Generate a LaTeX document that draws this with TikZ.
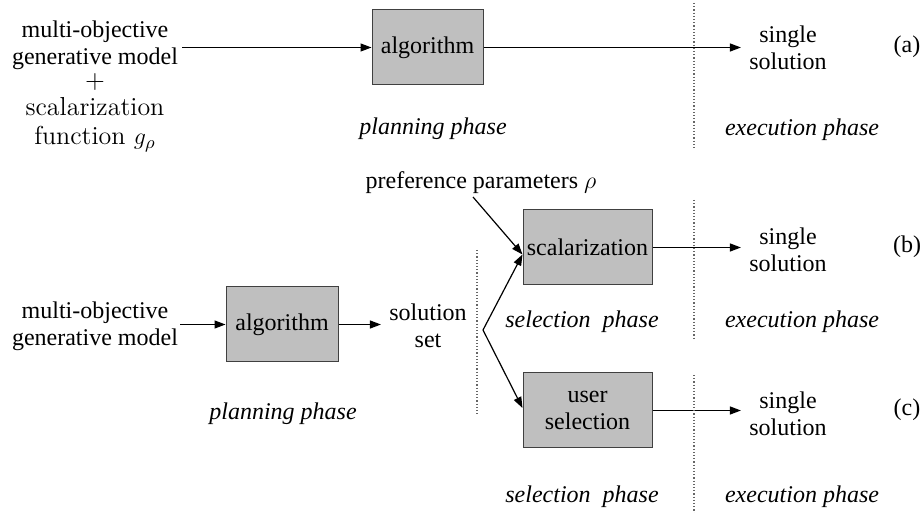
\documentclass[tikz,border=0pt]{standalone}
\usepackage{fontspec}
\newfontfamily\tms{Liberation Serif}
\usetikzlibrary{arrows.meta}
\tikzset{
  txt/.style={font=\tms\fontsize{12}{13.5}\selectfont, align=center, inner sep=1pt},
  cmtxt/.style={font=\fontsize{13}{14.5}\selectfont, align=center, inner sep=1pt},
  phase/.style={font=\tms\itshape\fontsize{12}{13.5}\selectfont, inner sep=1pt},
  box/.style={txt, draw=black!75, fill=gray!50, line width=0.5pt, minimum height=37.5pt},
  flow/.style={-{Triangle[length=5.5pt,width=4pt]}, line width=0.6pt},
  sep/.style={black!60, densely dotted, line width=0.6pt}
}
\begin{document}
\begin{tikzpicture}[x=0.5pt,y=-0.5pt]
    \useasboundingbox (0,0) rectangle (922,513);
    % (a) planning with scalarization
    \node[txt, inner sep=0pt] (inA) at (95,45) {multi-objective\\generative model};
    \node[cmtxt, inner sep=0pt] (plus) at (95,82) {+};
    \node[cmtxt] (gfun) at (95,125) {scalarization\\function $g_\rho$};
    \node[box, minimum width=55.5pt] (algA) at (427.5,47.5) {algorithm};
    \node[txt] (solA) at (788,48) {single\\solution};
    \node[txt] (labA) at (907,47) {(a)};
    \draw[flow] ([xshift=2pt]inA.east |- algA.west) -- (algA.west);
    \draw[flow] (algA.east) -- ([xshift=-3pt]solA.west |- algA.east);
    \node[phase] (planA) at (433,129) {planning phase};
    \node[phase] (execA) at (802,130) {execution phase};
    \draw[sep] (694,3) -- (694,148);
    % (b) and (c) planning for a solution set
    \node[txt] (pref) at (481,183) {preference parameters $\rho$};
    \node[txt] (inB) at (95,326) {multi-objective\\generative model};
    \node[box, minimum width=56pt] (algB) at (282,324.5) {algorithm};
    \node[txt] (solB) at (428,326) {solution\\set};
    \draw[flow] (inB.east |- algB.west) -- (algB.west);
    \draw[flow] (algB.east) -- ([xshift=-3pt]solB.west |- algB.east);
    \coordinate (fork) at (483,330);
    \coordinate (pstart) at (473,197);
    \node[box, minimum width=64.5pt] (scal) at (587.5,247.5) {scalarization};
    \node[box, minimum width=64.5pt] (user) at (587.5,410.5) {user\\selection};
    \draw[flow] (pstart) -- ([yshift=-3.5pt]scal.west);
    \draw[flow] (fork) -- ([yshift=-3.5pt]scal.west);
    \draw[flow] (fork) -- ([yshift=1.25pt]user.west);
    \node[txt] (solB1) at (788,250) {single\\solution};
    \node[txt] (solC1) at (788,414) {single\\solution};
    \node[txt] (labB) at (907,247) {(b)};
    \node[txt] (labC) at (907,410) {(c)};
    \draw[flow] (scal.east) -- ([xshift=-3pt]solB1.west |- scal.east);
    \draw[flow] (user.east) -- ([xshift=-3pt]solC1.west |- user.east);
    \node[phase] (planB) at (283,414) {planning phase};
    \node[phase] (selB) at (582,322) {selection\ \ phase};
    \node[phase] (execB) at (802,322) {execution phase};
    \node[phase] (selC) at (582,497) {selection\ \ phase};
    \node[phase] (execC) at (802,497) {execution phase};
    \draw[sep] (694,200) -- (694,340);
    \draw[sep] (694,375) -- (694,513);
    \draw[sep] (477,250) -- (477,415);
\end{tikzpicture}
\end{document}
